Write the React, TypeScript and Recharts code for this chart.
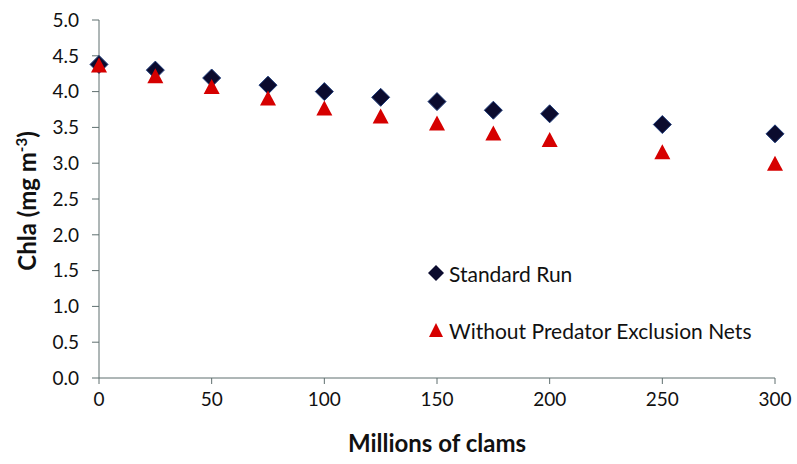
import { ScatterChart, Scatter, XAxis, YAxis } from 'recharts';

const clams = [0, 25, 50, 75, 100, 125, 150, 175, 200, 250, 300];
const standardRun = [4.38, 4.3, 4.19, 4.09, 4.0, 3.92, 3.86, 3.74, 3.69, 3.54, 3.41];
const withoutNets = [4.35, 4.2, 4.05, 3.89, 3.75, 3.64, 3.54, 3.4, 3.31, 3.14, 2.98];
const xTicks = [0, 50, 100, 150, 200, 250, 300];
const yTicks = [0, 0.5, 1, 1.5, 2, 2.5, 3, 3.5, 4, 4.5, 5];

const standardData = clams.map((x, i) => ({ x, y: standardRun[i] }));
const netsData = clams.map((x, i) => ({ x, y: withoutNets[i] }));

const FONT = 'Lato, "Open Sans", sans-serif';
const AXIS = '#5f6f6f';
const DIAMOND = '#0b0b2e';
const RED = '#d60000';

const Diamond = ({ cx, cy }: any) => (
  <polygon
    points={`${cx},${cy - 9} ${cx + 9},${cy} ${cx},${cy + 9} ${cx - 9},${cy}`}
    fill={DIAMOND}
    stroke="#1f3c7a"
    strokeWidth={1}
  />
);

const Triangle = ({ cx, cy }: any) => (
  <polygon
    points={`${cx},${cy - 9} ${cx + 8},${cy + 6} ${cx - 8},${cy + 6}`}
    fill={RED}
  />
);

const YLabel = () => (
  <text
    x={0}
    y={0}
    transform="translate(36, 201) rotate(-90)"
    textAnchor="middle"
    fontFamily={FONT}
    fontWeight="bold"
    fontSize={24}
    fill="#111"
  >
    Chla (mg m<tspan dy={-9} fontSize={15}>-3</tspan>
    <tspan dy={9}>)</tspan>
  </text>
);

const LegendBox = () => (
  <div
    style={{
      position: 'absolute',
      left: 427,
      top: 261,
      fontFamily: FONT,
      fontSize: 21,
      color: '#111',
      pointerEvents: 'none',
      whiteSpace: 'nowrap',
    }}
  >
    <div style={{ display: 'flex', alignItems: 'center', height: 24 }}>
      <svg width={18} height={18} style={{ marginRight: 4 }}>
        <polygon points="9,1 17,9 9,17 1,9" fill={DIAMOND} />
      </svg>
      Standard Run
    </div>
    <div style={{ display: 'flex', alignItems: 'center', height: 24, marginTop: 33 }}>
      <svg width={18} height={18} style={{ marginRight: 4 }}>
        <polygon points="9,2 16,16 2,16" fill={RED} />
      </svg>
      Without Predator Exclusion Nets
    </div>
  </div>
);

export default function App() {
  return (
    <div style={{ position: 'absolute', left: 0, top: 0, width: 797, height: 464, background: '#fff' }}>
      <ScatterChart width={797} height={464} margin={{ top: 20, right: 22, bottom: 0, left: 30 }}>
        <XAxis
          type="number"
          dataKey="x"
          domain={[0, 300]}
          ticks={xTicks}
          height={86}
          stroke={AXIS}
          tickSize={6}
          tickMargin={9}
          tick={{ fill: '#111', fontSize: 19, fontFamily: FONT }}
          label={{
            value: 'Millions of clams',
            position: 'insideBottom',
            offset: 12,
            fill: '#111',
            fontSize: 24,
            fontWeight: 'bold',
            fontFamily: FONT,
          }}
        />
        <YAxis
          type="number"
          dataKey="y"
          domain={[0, 5]}
          ticks={yTicks}
          width={69}
          stroke={AXIS}
          tickSize={7}
          tickMargin={13}
          tickFormatter={(v: number) => v.toFixed(1)}
          tick={{ fill: '#111', fontSize: 19, fontFamily: FONT }}
          label={<YLabel />}
        />
        <Scatter data={standardData} shape={<Diamond />} isAnimationActive={false} />
        <Scatter data={netsData} shape={<Triangle />} isAnimationActive={false} />
      </ScatterChart>
      <LegendBox />
    </div>
  );
}
